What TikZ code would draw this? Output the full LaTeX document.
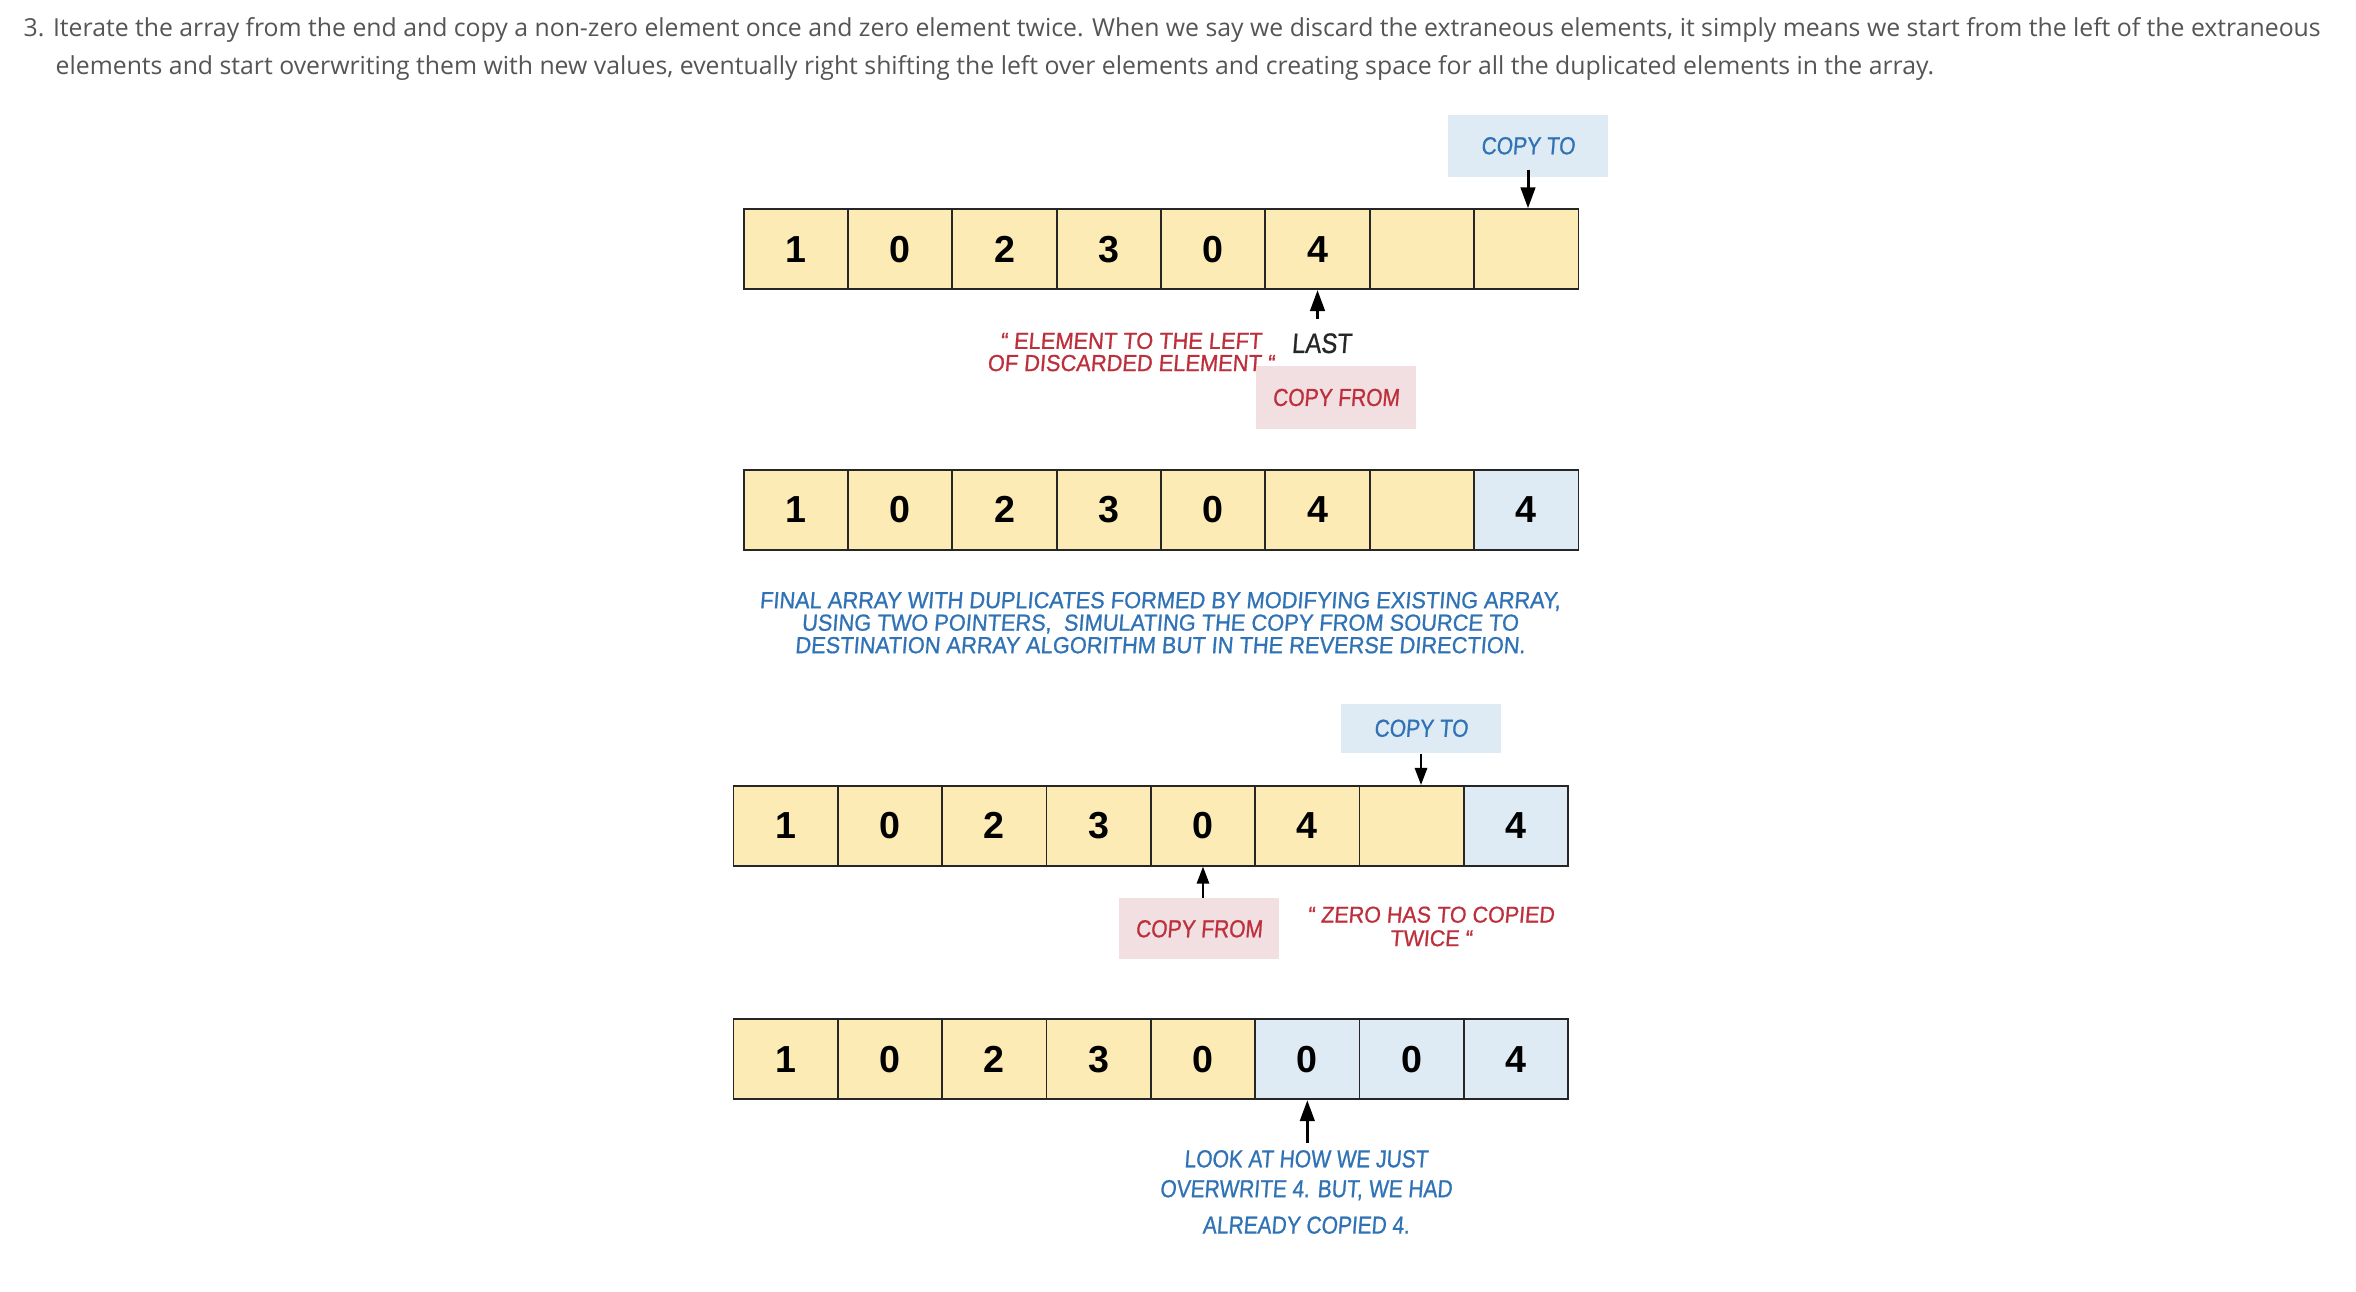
\documentclass[tikz,border=0pt]{standalone}
\usepackage{fontspec}
\setmainfont{Liberation Sans}
\newfontfamily\bodyfont{Open Sans}
\newfontfamily\comicfont{Liberation Sans}[FakeStretch=0.85,FakeSlant=0.08,FakeBold=0.8]
\newfontfamily\comicwide{Liberation Sans}[FakeStretch=0.94,FakeSlant=0.08,FakeBold=0.8]
\usetikzlibrary{arrows.meta}

\definecolor{cellyellow}{HTML}{FCEBB4}
\definecolor{cellblue}{HTML}{DEEAF4}
\definecolor{boxpink}{HTML}{F2DFE1}
\definecolor{textblue}{HTML}{2F72B5}
\definecolor{textred}{HTML}{BD2F3B}
\definecolor{bodygray}{HTML}{555555}

\begin{document}
\begin{tikzpicture}[
      x=0.01cm, y=-0.01cm,
      cell/.style={draw=black!85, line width=0.5pt, minimum width=1.0433cm, minimum height=0.8cm, inner sep=0pt, font=\bfseries\fontsize{10.7}{12}\selectfont},
      tag_box/.style={minimum width=1.59cm, minimum height=0.62cm, inner sep=0pt, font=\comicfont\fontsize{7}{8}\selectfont},
      red_note/.style={text=textred, align=center, inner sep=0pt, font=\comicwide\fontsize{6.6}{6.3}\selectfont},
      blue_note/.style={text=textblue, align=center, inner sep=0pt, font=\comicwide\fontsize{6.6}{6.4}\selectfont},
      body_line/.style={anchor=base west, inner sep=0pt, text=bodygray, font=\bodyfont\fontsize{7.05}{10}\selectfont},
      thick_arrow/.style={line width=0.85pt, -{Triangle[length=0.21cm,width=0.145cm]}},
      thin_arrow/.style={line width=0.45pt, -{Triangle[length=0.17cm,width=0.125cm]}}
    ]

    % ------------------------------------------------------------------ %
    % Page area
    % ------------------------------------------------------------------ %

    \useasboundingbox[fill=white] (0,0) rectangle (2356,1292);

    % ------------------------------------------------------------------ %
    % Step text
    % ------------------------------------------------------------------ %

    \node[body_line] (p1) at (23,37) {3. Iterate the array from the end and copy a non-zero element once and zero element twice. When we say we discard the extraneous elements, it simply means we start from the left of the extraneous};
    \node[body_line] (p2) at (55,75) {elements and start overwriting them with new values, eventually right shifting the left over elements and creating space for all the duplicated elements in the array.};

    % ------------------------------------------------------------------ %
    % Arrays
    % ------------------------------------------------------------------ %

    % first array
    \foreach \val/\col [count=\k] in {1/cellyellow,0/cellyellow,2/cellyellow,3/cellyellow,0/cellyellow,4/cellyellow,/cellyellow,/cellyellow}
      \node[cell, fill=\col] (r1c\k) at ({743.7+(\k-0.5)*104.33},249.2) {\val};

    % second array
    \foreach \val/\col [count=\k] in {1/cellyellow,0/cellyellow,2/cellyellow,3/cellyellow,0/cellyellow,4/cellyellow,/cellyellow,4/cellblue}
      \node[cell, fill=\col] (r2c\k) at ({743.7+(\k-0.5)*104.33},509.7) {\val};

    % third array
    \foreach \val/\col [count=\k] in {1/cellyellow,0/cellyellow,2/cellyellow,3/cellyellow,0/cellyellow,4/cellyellow,/cellyellow,4/cellblue}
      \node[cell, fill=\col] (r3c\k) at ({733.5+(\k-0.5)*104.33},825.8) {\val};

    % fourth array
    \foreach \val/\col [count=\k] in {1/cellyellow,0/cellyellow,2/cellyellow,3/cellyellow,0/cellyellow,0/cellblue,0/cellblue,4/cellblue}
      \node[cell, fill=\col] (r4c\k) at ({733.5+(\k-0.5)*104.33},1059.3) {\val};

    % ------------------------------------------------------------------ %
    % Pointer boxes
    % ------------------------------------------------------------------ %

    \node[tag_box, fill=cellblue, text=textblue] (to1) at (1528,145.8) {COPY TO};
    \node[tag_box, fill=boxpink, text=textred] (from1) at (1336,397.5) {COPY FROM};
    \node[tag_box, fill=cellblue, text=textblue, minimum height=0.49cm] (to2) at (1421,728.3) {COPY TO};
    \node[tag_box, fill=boxpink, text=textred, minimum height=0.61cm] (from2) at (1199,928.8) {COPY FROM};

    % ------------------------------------------------------------------ %
    % Arrows
    % ------------------------------------------------------------------ %

    \draw[thick_arrow] ([yshift=0.08cm]to1.south) -- (to1.south |- r1c8.north);
    \draw[thick_arrow] ([yshift=-0.29cm]r1c6.south) -- (r1c6.south);
    \draw[thin_arrow] (to2.south) -- (to2.south |- r3c7.north);
    \draw[thin_arrow] (from2.north -| r3c5.south) -- (r3c5.south);
    \draw[thick_arrow] ([yshift=-0.424cm]r4c6.south) -- (r4c6.south);

    % ------------------------------------------------------------------ %
    % Annotations
    % ------------------------------------------------------------------ %

    \node[inner sep=0pt, text=black!85, font=\comicfont\fontsize{8}{9}\selectfont] (last) at (1321.5,343.3) {LAST};
    \node[red_note] (note1) at (1131,352) {“ ELEMENT TO THE LEFT\\OF DISCARDED ELEMENT “};
    \node[blue_note] (para) at (1160,622.7) {FINAL ARRAY WITH DUPLICATES FORMED BY MODIFYING EXISTING ARRAY,\\USING TWO POINTERS,\ \ SIMULATING THE COPY FROM SOURCE TO\\DESTINATION ARRAY ALGORITHM BUT IN THE REVERSE DIRECTION.};
    \node[red_note, font=\comicwide\fontsize{6.5}{6.7}\selectfont] (note2) at (1431,926.5) {“ ZERO HAS TO COPIED\\TWICE “};
    \node[blue_note, font=\comicfont\fontsize{7}{8.5}\selectfont] (note3) at (1306,1192) {LOOK AT HOW WE JUST\\OVERWRITE 4. BUT, WE HAD\\[1.85pt]ALREADY COPIED 4.};

    \end{tikzpicture}
\end{document}
